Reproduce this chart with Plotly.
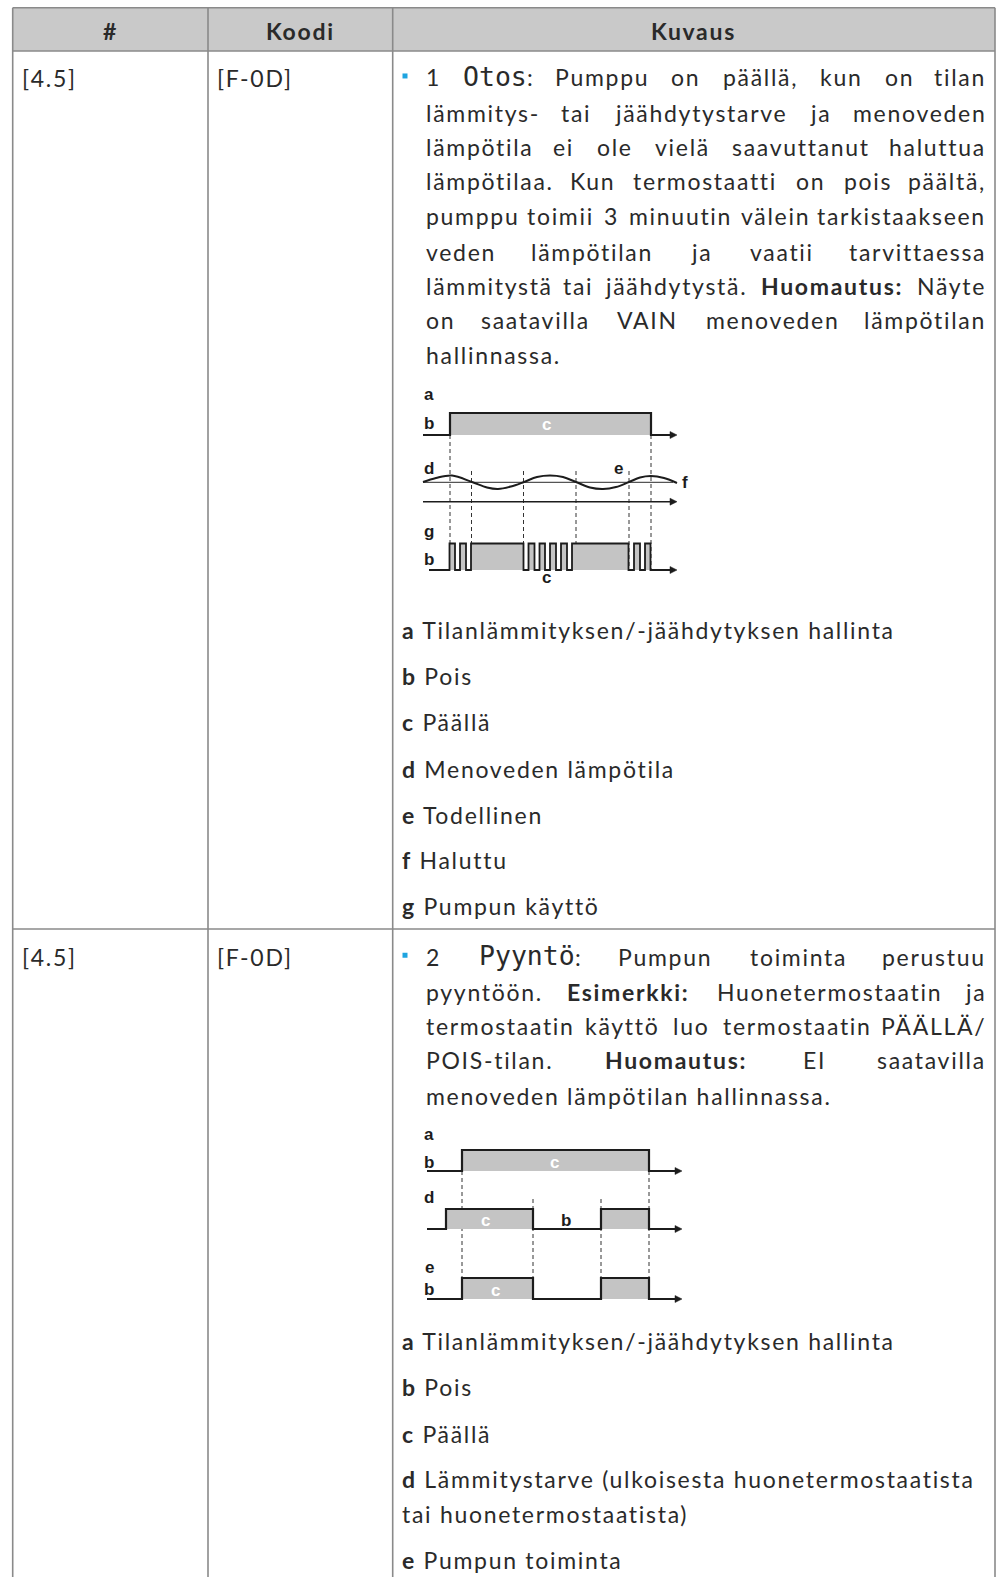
import plotly.graph_objects as go

# ---------------- content ----------------
HEADERS = ["#", "Koodi", "Kuvaus"]
ROW_IDS = ["[4.5]", "[4.5]"]
ROW_CODES = ["[F-0D]", "[F-0D]"]

# paragraph tokens: (text, kind)  n = normal, b = bold, m = monospace term followed by ':'
P1_LINES = [
    [("1", "n"), ("Otos", "m"), ("Pumppu", "n"), ("on", "n"), ("päällä,", "n"), ("kun", "n"), ("on", "n"), ("tilan", "n")],
    [("lämmitys-", "n"), ("tai", "n"), ("jäähdytystarve", "n"), ("ja", "n"), ("menoveden", "n")],
    [("lämpötila", "n"), ("ei", "n"), ("ole", "n"), ("vielä", "n"), ("saavuttanut", "n"), ("haluttua", "n")],
    [("lämpötilaa.", "n"), ("Kun", "n"), ("termostaatti", "n"), ("on", "n"), ("pois", "n"), ("päältä,", "n")],
    [("pumppu", "n"), ("toimii", "n"), ("3", "n"), ("minuutin", "n"), ("välein", "n"), ("tarkistaakseen", "n")],
    [("veden", "n"), ("lämpötilan", "n"), ("ja", "n"), ("vaatii", "n"), ("tarvittaessa", "n")],
    [("lämmitystä", "n"), ("tai", "n"), ("jäähdytystä.", "n"), ("Huomautus:", "b"), ("Näyte", "n")],
    [("on", "n"), ("saatavilla", "n"), ("VAIN", "n"), ("menoveden", "n"), ("lämpötilan", "n")],
    [("hallinnassa.", "n")],
]
P2_LINES = [
    [("2", "n"), ("Pyyntö", "m"), ("Pumpun", "n"), ("toiminta", "n"), ("perustuu", "n")],
    [("pyyntöön.", "n"), ("Esimerkki:", "b"), ("Huonetermostaatin", "n"), ("ja", "n")],
    [("termostaatin", "n"), ("käyttö", "n"), ("luo", "n"), ("termostaatin", "n"), ("PÄÄLLÄ/", "n")],
    [("POIS-tilan.", "n"), ("Huomautus:", "b"), ("EI", "n"), ("saatavilla", "n")],
    [("menoveden", "n"), ("lämpötilan", "n"), ("hallinnassa.", "n")],
]
LEGEND1 = [("a", "Tilanlämmityksen/-jäähdytyksen hallinta"), ("b", "Pois"),
           ("c", "Päällä"), ("d", "Menoveden lämpötila"), ("e", "Todellinen"),
           ("f", "Haluttu"), ("g", "Pumpun käyttö")]
LEGEND2 = [("a", "Tilanlämmityksen/-jäähdytyksen hallinta"), ("b", "Pois"),
           ("c", "Päällä"), ("d", "Lämmitystarve (ulkoisesta huonetermostaatista"),
           ("", "tai huonetermostaatista)"), ("e", "Pumpun toiminta")]

# diagram 1 timing (pixel-time)
D1_DEMAND = [(450, 651)]
D1_PUMP = [(449.5, 455), (460, 466), (471, 523.5), (528.5, 534.5), (539.5, 545),
           (550, 556), (561, 567), (572, 628.5), (634, 640), (645, 650.5)]
D1_WAVE_X = [423, 436, 452, 472, 487, 498, 511, 524, 537, 550, 563, 576, 590, 603, 616, 629, 640, 651, 664, 677]
D1_WAVE_Y = [482, 478, 475.5, 482, 487.5, 489, 486.5, 482, 477, 475.5, 477, 482, 487.5, 489, 487, 482, 477.5, 476, 478, 483]
D1_DASH_LONG = [450, 651]
D1_DASH_SHORT = [471.5, 523.5, 576, 629]

# diagram 2 timing
D2_A = [(462, 649)]
D2_D = [(446, 533), (601, 649)]
D2_E = [(462, 533), (601, 649)]
D2_DASH_LONG = [462, 649]
D2_DASH_SHORT = [533, 601]

# ---------------- layout constants ----------------
W, H = 998, 1577
K = 998 / 992.0
TXT = "#2a2a2a"
GRID = "#8a8a8a"
FILL = "#c4c4c4"
SIG = "#1c1c1c"
FONT = "Lato"
FS = 23
LS = 1.7
MONO = "DejaVu Sans Mono"
MFS = 26.5
LBL = "Liberation Sans"

CW = {'a': .50, 'ä': .50, 'b': .55, 'c': .46, 'd': .55, 'e': .52, 'f': .32, 'g': .50, 'h': .55,
      'i': .23, 'j': .23, 'k': .50, 'l': .23, 'm': .82, 'n': .55, 'o': .55, 'ö': .55, 'p': .55,
      'r': .36, 's': .42, 't': .35, 'u': .55, 'v': .50, 'w': .76, 'y': .50, 'z': .44,
      'A': .68, 'Ä': .68, 'E': .55, 'H': .75, 'I': .28, 'K': .65, 'L': .48, 'N': .75, 'O': .78,
      'P': .60, 'S': .52, 'T': .56, 'V': .66, '.': .2, ',': .2, ':': .22, '-': .33, '/': .36,
      '(': .3, ')': .3, ' ': .19}

fig = go.Figure()
anns = []
shapes = []


def sp(s):
    return "<span style='letter-spacing:%.2fpx'>%s</span>" % (LS, s)


def txt(x, y, s, size=FS, family=FONT, color=TXT, anchor="left"):
    anns.append(dict(x=x, y=y, text=s, showarrow=False, xref="x", yref="y",
                     xanchor=anchor, yanchor="middle",
                     font=dict(family=family, size=size, color=color)))


def est(text, kind):
    if kind == "m":
        return len(text) * 0.602 * MFS + CW[':'] * FS + LS
    w = sum(CW.get(c, .55) for c in text) * FS + LS * len(text)
    return w * (1.07 if kind == "b" else 1.0)


def draw_tok(x, y, text, kind, anchor):
    if kind == "m":
        txt(x, y - 1, text, size=MFS, family=MONO)
        txt(x + len(text) * 0.602 * MFS, y, sp(":"))
    elif kind == "b":
        txt(x, y, sp("<b>" + text + "</b>"), anchor=anchor)
    else:
        txt(x, y, sp(text), anchor=anchor)


XL, XR = 424, 988


def line(tokens, y, justify=True):
    if not justify:
        txt(XL, y, sp(" ".join(t for t, _ in tokens)))
        return
    ws = [est(t, k) for t, k in tokens]
    n = len(tokens)
    gap = (XR - XL - sum(ws)) / (n - 1)
    s = XL
    for i, ((t, k), w) in enumerate(zip(tokens, ws)):
        if i == 0 or k == "m":
            draw_tok(s, y, t, k, "left")
        elif i == n - 1:
            draw_tok(XR, y, t, k, "right")
        else:
            draw_tok(s + w / 2, y, t, k, "center")
        s += w + gap


# table frame
L, C1, C2, R = 12.7, 208, 392.7, 995
TOP, HB, RS = 7.7, 51, 929
shapes.append(dict(type="rect", x0=L, x1=R, y0=TOP, y1=HB, fillcolor="#c9c9c9",
                   line=dict(width=0), layer="below"))
for (x0, y0, x1, y1) in [(L, TOP, R, TOP), (L, HB, R, HB), (L, RS, R, RS),
                         (L, TOP, L, H + 5), (C1, TOP, C1, H + 5), (C2, TOP, C2, H + 5), (R, TOP, R, H + 5)]:
    shapes.append(dict(type="line", x0=x0, y0=y0, x1=x1, y1=y1,
                       line=dict(color=GRID, width=1.6)))

for cx, h in zip([(L + C1) / 2, (C1 + C2) / 2, (C2 + R) / 2], HEADERS):
    txt(cx, 30.5, sp("<b>" + h + "</b>"), anchor="center")

for ry, rid, rc in zip([77.5, 957], ROW_IDS, ROW_CODES):
    txt(20, ry, sp(rid))
    txt(215, ry, sp(rc))


def bullet(y):
    shapes.append(dict(type="rect", x0=402.5, x1=407.5, y0=y - 2.5, y1=y + 2.5,
                       fillcolor="#1ea4e0", line=dict(width=0)))


P1_Y = [v * K for v in [77, 112, 146, 180, 215, 250, 284, 318, 353]]
bullet(P1_Y[0] - 1.5)
for i, (toks, y) in enumerate(zip(P1_LINES, P1_Y)):
    line(toks, y, justify=i < len(P1_LINES) - 1)

P2_Y = [v * K for v in [951, 986, 1020, 1054, 1089]]
bullet(P2_Y[0] - 1.5)
for i, (toks, y) in enumerate(zip(P2_LINES, P2_Y)):
    line(toks, y, justify=i < len(P2_LINES) - 1)

for (k, s), y in zip(LEGEND1, [626, 672, 718, 764, 810, 855, 901]):
    txt(400, y * K, sp(("<b>" + k + "</b> " if k else "") + s))
for (k, s), y in zip(LEGEND2, [1333, 1379, 1425, 1470, 1505, 1551]):
    txt(400, y * K, sp(("<b>" + k + "</b> " if k else "") + s))


# ---------------- timing diagrams ----------------
def arrow(x, y):
    shapes.append(dict(type="path", path=f"M {x-7} {y-3.5} L {x} {y} L {x-7} {y+3.5} Z",
                       fillcolor=SIG, line=dict(color=SIG, width=0.5)))


def signal(pulses, base, top, x0, x1, width=2.2):
    for (r, f) in pulses:
        fig.add_trace(go.Scatter(x=[r, r, f, f, r], y=[base, top, top, base, base],
                                 fill="toself", fillcolor=FILL, mode="none",
                                 hoverinfo="skip", showlegend=False))
    xs, ys = [x0], [base]
    for (r, f) in pulses:
        xs += [r, r, f, f]
        ys += [base, top, top, base]
    xs.append(x1 - 4)
    ys.append(base)
    fig.add_trace(go.Scatter(x=xs, y=ys, mode="lines", line=dict(color=SIG, width=width),
                             hoverinfo="skip", showlegend=False))
    arrow(x1, base)


def hline(x0, x1, y, width=1.6):
    fig.add_trace(go.Scatter(x=[x0, x1 - 4], y=[y, y], mode="lines",
                             line=dict(color=SIG, width=width), hoverinfo="skip", showlegend=False))
    arrow(x1, y)


def dashes(xs, y0, y1):
    for x in xs:
        fig.add_trace(go.Scatter(x=[x, x], y=[y0, y1], mode="lines",
                                 line=dict(color="#333333", width=1, dash="4px,3px"),
                                 hoverinfo="skip", showlegend=False))


def lbl(x, y, s, color=SIG, size=17):
    anns.append(dict(x=x, y=y, text="<b>" + s + "</b>", showarrow=False, xref="x", yref="y",
                     xanchor="center", yanchor="middle",
                     font=dict(family=LBL, size=size, color=color)))


# diagram 1
dashes(D1_DASH_LONG, 435, 570)
dashes(D1_DASH_SHORT, 471, 570)
signal(D1_DEMAND, 435, 413, 423, 677)
fig.add_trace(go.Scatter(x=[423, 673], y=[482.3, 482.3], mode="lines",
                         line=dict(color="#555555", width=1.2), hoverinfo="skip", showlegend=False))
fig.add_trace(go.Scatter(x=D1_WAVE_X, y=D1_WAVE_Y, mode="lines", line_shape="spline",
                         line=dict(color=SIG, width=2), hoverinfo="skip", showlegend=False))
hline(423, 677, 501.7, width=1.4)
signal(D1_PUMP, 570, 543.5, 429, 677, width=1.8)
lbl(429, 394, "a")
lbl(429, 423.5, "b")
lbl(546, 424.5, "c", color="white")
lbl(429, 468.5, "d")
lbl(618.5, 468.5, "e")
lbl(685, 482, "f")
lbl(429, 531, "g")
lbl(429, 559, "b")
lbl(546, 577.5, "c")

# diagram 2
dashes(D2_DASH_LONG, 1171, 1299)
dashes(D2_DASH_SHORT, 1199, 1299)
signal(D2_A, 1171, 1150, 427, 682)
signal(D2_D, 1229, 1209, 427, 682)
signal(D2_E, 1299, 1278, 427, 682)
lbl(429, 1134.5, "a")
lbl(429, 1162, "b")
lbl(554, 1162, "c", color="white")
lbl(429, 1197.5, "d")
lbl(485, 1220, "c", color="white")
lbl(566, 1220, "b")
lbl(429, 1267, "e")
lbl(429, 1289.5, "b")
lbl(495, 1290, "c", color="white")

fig.update_layout(
    width=W, height=H, margin=dict(l=0, r=0, t=0, b=0),
    paper_bgcolor="white", plot_bgcolor="white",
    xaxis=dict(range=[0, W], visible=False, fixedrange=True),
    yaxis=dict(range=[H, 0], visible=False, fixedrange=True),
    annotations=anns, shapes=shapes, showlegend=False,
)
# remove the page's default body margin / scrollbars so the figure fills the window exactly
PAGE_CSS = ("document.documentElement.style.margin='0';document.body.style.margin='0';"
            "document.documentElement.style.overflow='hidden';document.body.style.overflow='hidden';")
fig.write_html("out.html", config={"displayModeBar": False}, post_script=PAGE_CSS)
